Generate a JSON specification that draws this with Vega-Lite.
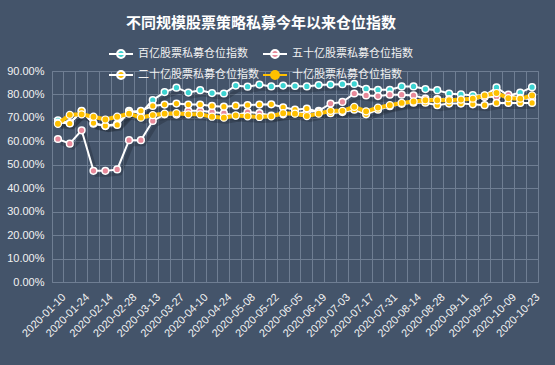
{
  "$schema": "https://vega.github.io/schema/vega-lite/v6.json",
  "width": 486,
  "height": 211,
  "autosize": {"type": "none"},
  "padding": {"left": 52, "top": 71, "right": 17, "bottom": 83},
  "background": "#44546A",
  "config": {
    "font": "Noto Sans CJK SC",
    "view": {"stroke": "#6F7E93", "strokeWidth": 1}
  },
  "title": {
    "text": "不同规模股票策略私募今年以来仓位指数",
    "fontSize": 15,
    "fontWeight": "bold",
    "color": "#FFFFFF",
    "font": "Noto Sans CJK SC",
    "anchor": "middle",
    "frame": "group",
    "dx": -34,
    "offset": 10
  },
  "data": {
    "values": [
      {"d": "2020-01-10", "百亿股票私募仓位指数": 0.690, "五十亿股票私募仓位指数": 0.610, "二十亿股票私募仓位指数": 0.680, "十亿股票私募仓位指数": 0.675},
      {"d": "2020-01-17", "百亿股票私募仓位指数": 0.678, "五十亿股票私募仓位指数": 0.590, "二十亿股票私募仓位指数": 0.676, "十亿股票私募仓位指数": 0.713},
      {"d": "2020-01-24", "百亿股票私募仓位指数": 0.728, "五十亿股票私募仓位指数": 0.647, "二十亿股票私募仓位指数": 0.730, "十亿股票私募仓位指数": 0.715},
      {"d": "2020-02-07", "百亿股票私募仓位指数": 0.675, "五十亿股票私募仓位指数": 0.474, "二十亿股票私募仓位指数": 0.678, "十亿股票私募仓位指数": 0.705},
      {"d": "2020-02-14", "百亿股票私募仓位指数": 0.665, "五十亿股票私募仓位指数": 0.474, "二十亿股票私募仓位指数": 0.666, "十亿股票私募仓位指数": 0.693},
      {"d": "2020-02-21", "百亿股票私募仓位指数": 0.675, "五十亿股票私募仓位指数": 0.480, "二十亿股票私募仓位指数": 0.670, "十亿股票私募仓位指数": 0.705},
      {"d": "2020-02-28", "百亿股票私募仓位指数": 0.730, "五十亿股票私募仓位指数": 0.605, "二十亿股票私募仓位指数": 0.725, "十亿股票私募仓位指数": 0.718},
      {"d": "2020-03-06", "百亿股票私募仓位指数": 0.720, "五十亿股票私募仓位指数": 0.605, "二十亿股票私募仓位指数": 0.730, "十亿股票私募仓位指数": 0.701},
      {"d": "2020-03-13", "百亿股票私募仓位指数": 0.776, "五十亿股票私募仓位指数": 0.687, "二十亿股票私募仓位指数": 0.751, "十亿股票私募仓位指数": 0.712},
      {"d": "2020-03-20", "百亿股票私募仓位指数": 0.810, "五十亿股票私募仓位指数": 0.715, "二十亿股票私募仓位指数": 0.757, "十亿股票私募仓位指数": 0.718},
      {"d": "2020-03-27", "百亿股票私募仓位指数": 0.829, "五十亿股票私募仓位指数": 0.714, "二十亿股票私募仓位指数": 0.761, "十亿股票私募仓位指数": 0.720},
      {"d": "2020-04-03", "百亿股票私募仓位指数": 0.808, "五十亿股票私募仓位指数": 0.730, "二十亿股票私募仓位指数": 0.757, "十亿股票私募仓位指数": 0.715},
      {"d": "2020-04-10", "百亿股票私募仓位指数": 0.818, "五十亿股票私募仓位指数": 0.730, "二十亿股票私募仓位指数": 0.757, "十亿股票私募仓位指数": 0.715},
      {"d": "2020-04-17", "百亿股票私募仓位指数": 0.806, "五十亿股票私募仓位指数": 0.725, "二十亿股票私募仓位指数": 0.751, "十亿股票私募仓位指数": 0.705},
      {"d": "2020-04-24", "百亿股票私募仓位指数": 0.804, "五十亿股票私募仓位指数": 0.720, "二十亿股票私募仓位指数": 0.748, "十亿股票私募仓位指数": 0.701},
      {"d": "2020-04-30", "百亿股票私募仓位指数": 0.838, "五十亿股票私募仓位指数": 0.710, "二十亿股票私募仓位指数": 0.752, "十亿股票私募仓位指数": 0.710},
      {"d": "2020-05-08", "百亿股票私募仓位指数": 0.833, "五十亿股票私募仓位指数": 0.725, "二十亿股票私募仓位指数": 0.755, "十亿股票私募仓位指数": 0.707},
      {"d": "2020-05-15", "百亿股票私募仓位指数": 0.842, "五十亿股票私募仓位指数": 0.720, "二十亿股票私募仓位指数": 0.757, "十亿股票私募仓位指数": 0.704},
      {"d": "2020-05-22", "百亿股票私募仓位指数": 0.834, "五十亿股票私募仓位指数": 0.710, "二十亿股票私募仓位指数": 0.758, "十亿股票私募仓位指数": 0.707},
      {"d": "2020-05-29", "百亿股票私募仓位指数": 0.838, "五十亿股票私募仓位指数": 0.715, "二十亿股票私募仓位指数": 0.745, "十亿股票私募仓位指数": 0.720},
      {"d": "2020-06-05", "百亿股票私募仓位指数": 0.836, "五十亿股票私募仓位指数": 0.720, "二十亿股票私募仓位指数": 0.735, "十亿股票私募仓位指数": 0.718},
      {"d": "2020-06-12", "百亿股票私募仓位指数": 0.834, "五十亿股票私募仓位指数": 0.725, "二十亿股票私募仓位指数": 0.740, "十亿股票私募仓位指数": 0.708},
      {"d": "2020-06-19", "百亿股票私募仓位指数": 0.840, "五十亿股票私募仓位指数": 0.730, "二十亿股票私募仓位指数": 0.725, "十亿股票私募仓位指数": 0.718},
      {"d": "2020-06-24", "百亿股票私募仓位指数": 0.842, "五十亿股票私募仓位指数": 0.761, "二十亿股票私募仓位指数": 0.720, "十亿股票私募仓位指数": 0.730},
      {"d": "2020-07-03", "百亿股票私募仓位指数": 0.844, "五十亿股票私募仓位指数": 0.768, "二十亿股票私募仓位指数": 0.725, "十亿股票私募仓位指数": 0.730},
      {"d": "2020-07-10", "百亿股票私募仓位指数": 0.845, "五十亿股票私募仓位指数": 0.804, "二十亿股票私募仓位指数": 0.735, "十亿股票私募仓位指数": 0.747},
      {"d": "2020-07-17", "百亿股票私募仓位指数": 0.824, "五十亿股票私募仓位指数": 0.796, "二十亿股票私募仓位指数": 0.715, "十亿股票私募仓位指数": 0.728},
      {"d": "2020-07-24", "百亿股票私募仓位指数": 0.820, "五十亿股票私募仓位指数": 0.793, "二十亿股票私募仓位指数": 0.735, "十亿股票私募仓位指数": 0.744},
      {"d": "2020-07-31", "百亿股票私募仓位指数": 0.820, "五十亿股票私募仓位指数": 0.799, "二十亿股票私募仓位指数": 0.750, "十亿股票私募仓位指数": 0.754},
      {"d": "2020-08-07", "百亿股票私募仓位指数": 0.834, "五十亿股票私募仓位指数": 0.799, "二十亿股票私募仓位指数": 0.760, "十亿股票私募仓位指数": 0.764},
      {"d": "2020-08-14", "百亿股票私募仓位指数": 0.834, "五十亿股票私募仓位指数": 0.796, "二十亿股票私募仓位指数": 0.765, "十亿股票私募仓位指数": 0.770},
      {"d": "2020-08-21", "百亿股票私募仓位指数": 0.823, "五十亿股票私募仓位指数": 0.782, "二十亿股票私募仓位指数": 0.765, "十亿股票私募仓位指数": 0.775},
      {"d": "2020-08-28", "百亿股票私募仓位指数": 0.818, "五十亿股票私募仓位指数": 0.780, "二十亿股票私募仓位指数": 0.754, "十亿股票私募仓位指数": 0.775},
      {"d": "2020-09-04", "百亿股票私募仓位指数": 0.804, "五十亿股票私募仓位指数": 0.780, "二十亿股票私募仓位指数": 0.761, "十亿股票私募仓位指数": 0.775},
      {"d": "2020-09-11", "百亿股票私募仓位指数": 0.800, "五十亿股票私募仓位指数": 0.778, "二十亿股票私募仓位指数": 0.761, "十亿股票私募仓位指数": 0.778},
      {"d": "2020-09-18", "百亿股票私募仓位指数": 0.797, "五十亿股票私募仓位指数": 0.778, "二十亿股票私募仓位指数": 0.758, "十亿股票私募仓位指数": 0.782},
      {"d": "2020-09-25", "百亿股票私募仓位指数": 0.795, "五十亿股票私募仓位指数": 0.789, "二十亿股票私募仓位指数": 0.754, "十亿股票私募仓位指数": 0.796},
      {"d": "2020-09-30", "百亿股票私募仓位指数": 0.830, "五十亿股票私募仓位指数": 0.790, "二十亿股票私募仓位指数": 0.764, "十亿股票私募仓位指数": 0.806},
      {"d": "2020-10-09", "百亿股票私募仓位指数": 0.795, "五十亿股票私募仓位指数": 0.799, "二十亿股票私募仓位指数": 0.764, "十亿股票私募仓位指数": 0.784},
      {"d": "2020-10-16", "百亿股票私募仓位指数": 0.808, "五十亿股票私募仓位指数": 0.785, "二十亿股票私募仓位指数": 0.764, "十亿股票私募仓位指数": 0.782},
      {"d": "2020-10-23", "百亿股票私募仓位指数": 0.831, "五十亿股票私募仓位指数": 0.780, "二十亿股票私募仓位指数": 0.764, "十亿股票私募仓位指数": 0.796}
    ]
  },
  "transform": [
    {"fold": ["百亿股票私募仓位指数", "五十亿股票私募仓位指数", "二十亿股票私募仓位指数", "十亿股票私募仓位指数"], "as": ["s", "v"]}
  ],
  "encoding": {
    "x": {
      "field": "d",
      "type": "ordinal",
      "sort": null,
      "scale": {"type": "band", "paddingInner": 0, "paddingOuter": 0},
      "axis": {
        "title": null,
        "grid": true,
        "gridColor": "#6F7E93",
        "gridWidth": 1,
        "bandPosition": 0,
        "ticks": false,
        "domain": false,
        "labelAngle": -45,
        "labelOffset": 2,
        "labelExpr": "round(datum.index*40)%2==0 ? datum.label : ''",
        "labelColor": "#F2F2F2",
        "labelFont": "Liberation Sans",
        "labelFontSize": 11,
        "labelOverlap": false,
        "labelBound": false,
        "labelPadding": 9
      }
    },
    "y": {
      "field": "v",
      "type": "quantitative",
      "scale": {"domain": [0, 0.9]},
      "axis": {
        "title": null,
        "values": [0, 0.1, 0.2, 0.3, 0.4, 0.5, 0.6, 0.7, 0.8, 0.9],
        "format": ".2%",
        "grid": true,
        "gridColor": "#6F7E93",
        "ticks": false,
        "domain": false,
        "labelColor": "#F2F2F2",
        "labelFont": "Liberation Sans",
        "labelFontSize": 11,
        "labelPadding": 8
      }
    }
  },
  "layer": [
    {
      "mark": {"type": "line", "xOffset": 3, "yOffset": 4, "strokeWidth": 4, "opacity": 0.35, "color": "#1F2733"},
      "encoding": {"detail": {"field": "s"}}
    },
    {
      "transform": [{"filter": "datum.s != '十亿股票私募仓位指数'"}],
      "mark": {"type": "line", "strokeWidth": 2},
      "encoding": {
        "stroke": {
          "field": "s", "type": "nominal", "sort": null,
          "scale": {"domain": ["百亿股票私募仓位指数", "五十亿股票私募仓位指数", "二十亿股票私募仓位指数", "十亿股票私募仓位指数"], "range": ["#FFFFFF", "#FFFFFF", "#FFFFFF", "#FFC000"]},
          "legend": {
            "orient": "none", "legendX": 56, "legendY": -30, "direction": "horizontal", "columns": 2, "title": null,
            "symbolType": "M-1,0L1,0M-0.33,0A0.33,0.33 0 1,0 0.33,0A0.33,0.33 0 1,0 -0.33,0Z",
            "symbolSize": 576, "symbolStrokeWidth": 2,
            "labelColor": "#F2F2F2", "labelFontSize": 11, "labelFont": "Noto Sans CJK SC",
            "columnPadding": 0, "rowPadding": -2, "labelOffset": 4, "labelLimit": 0
          }
        }
      }
    },
    {
      "transform": [{"filter": "datum.s != '十亿股票私募仓位指数'"}],
      "mark": {"type": "point", "filled": true, "size": 45, "stroke": "#FFFFFF", "strokeWidth": 1.5, "opacity": 1},
      "encoding": {
        "fill": {
          "field": "s", "type": "nominal", "sort": null,
          "scale": {"domain": ["百亿股票私募仓位指数", "五十亿股票私募仓位指数", "二十亿股票私募仓位指数", "十亿股票私募仓位指数"], "range": ["#3CD3D1", "#E8899A", "#FFC000", "#FFC000"]},
          "legend": {
            "orient": "none", "legendX": 56, "legendY": -30, "direction": "horizontal", "columns": 2, "title": null,
            "symbolType": "M-1,0L1,0M-0.33,0A0.33,0.33 0 1,0 0.33,0A0.33,0.33 0 1,0 -0.33,0Z",
            "symbolSize": 576, "symbolStrokeWidth": 2,
            "labelColor": "#F2F2F2", "labelFontSize": 11, "labelFont": "Noto Sans CJK SC",
            "columnPadding": 0, "rowPadding": -2, "labelOffset": 4, "labelLimit": 0
          }
        }
      }
    },
    {
      "transform": [{"filter": "datum.s == '十亿股票私募仓位指数'"}],
      "mark": {"type": "line", "strokeWidth": 4},
      "encoding": {
        "stroke": {
          "field": "s", "type": "nominal", "sort": null,
          "scale": {"domain": ["百亿股票私募仓位指数", "五十亿股票私募仓位指数", "二十亿股票私募仓位指数", "十亿股票私募仓位指数"], "range": ["#FFFFFF", "#FFFFFF", "#FFFFFF", "#FFC000"]}
        }
      }
    },
    {
      "transform": [{"filter": "datum.s == '十亿股票私募仓位指数'"}],
      "mark": {"type": "point", "filled": true, "size": 50, "stroke": "#FFFFFF", "strokeWidth": 1.2, "opacity": 1},
      "encoding": {
        "fill": {
          "field": "s", "type": "nominal", "sort": null,
          "scale": {"domain": ["百亿股票私募仓位指数", "五十亿股票私募仓位指数", "二十亿股票私募仓位指数", "十亿股票私募仓位指数"], "range": ["#3CD3D1", "#E8899A", "#FFC000", "#FFC000"]}
        }
      }
    }
  ]
}
